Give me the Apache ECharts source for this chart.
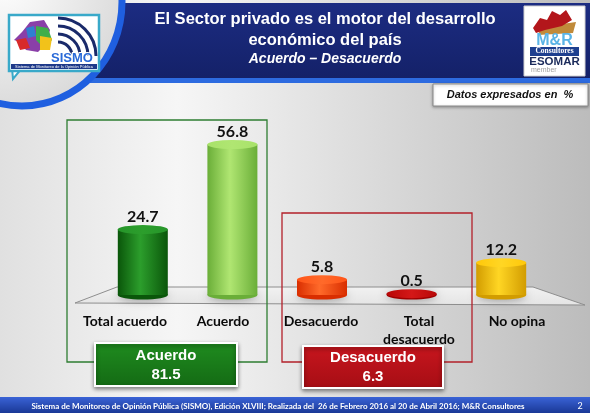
<!DOCTYPE html>
<html>
<head>
<meta charset="utf-8">
<script src="https://cdn.jsdelivr.net/npm/echarts@6/dist/echarts.min.js"></script>
<style>
  html, body { margin: 0; padding: 0; }
  #chart { width: 590px; height: 413px; }
</style>
</head>
<body>
<div id="chart"></div>
<script>
const categories = ['Total acuerdo', 'Acuerdo', 'Desacuerdo', 'Total\ndesacuerdo', 'No opina'];
const values = [24.7, 56.8, 5.8, 0.5, 12.2];
const groupNames = ['Acuerdo', 'Desacuerdo'];
const groupTotals = [81.5, 6.3];
const titleLines = ['El Sector privado es el motor del desarrollo', 'económico del país'];
const subtitle = 'Acuerdo – Desacuerdo';
const unitNote = 'Datos expresados en  %';
const footerText = 'Sistema de Monitoreo de Opinión Pública (SISMO), Edición XLVIII; Realizada del  26 de Febrero 2016 al 20 de Abril 2016; M&R Consultores';
const pageNumber = '2';

// edge, middle, top of each cylinder
const palette = [
  ['#0a560a', '#2c9e2c', '#26952a'],
  ['#6aae38', '#b0e672', '#a8e26a'],
  ['#d92e00', '#ff6a2a', '#ff5418'],
  ['#9e0000', '#d41818', '#b80808'],
  ['#d29c00', '#ffd624', '#ffc80a']
];

const FONT = 'Lato, "Open Sans", sans-serif';
const ARIAL = '"Liberation Sans", Arial, sans-serif';

function cylGrad(i) {
  const c = palette[i];
  return new echarts.graphic.LinearGradient(0, 0, 1, 0, [
    { offset: 0, color: c[0] },
    { offset: 0.45, color: c[1] },
    { offset: 1, color: c[0] }
  ]);
}

function topGrad(i) {
  const c = palette[i];
  return new echarts.graphic.LinearGradient(0, 0, 1, 0, [
    { offset: 0, color: c[2] },
    { offset: 0.5, color: c[1] },
    { offset: 1, color: c[2] }
  ]);
}

const chart = echarts.init(document.getElementById('chart'));

const graphic = [
  // header band
  { type: 'rect', shape: { x: 0, y: 3, width: 590, height: 76 }, z: 0,
    style: { fill: new echarts.graphic.LinearGradient(0, 0, 0, 1, [
      { offset: 0, color: '#1c2c82' }, { offset: 1, color: '#142168' }]) } },
  { type: 'rect', shape: { x: 0, y: 78, width: 590, height: 5 }, z: 0, style: { fill: '#2d6be0' } },
  { type: 'ellipse', shape: { cx: 22, cy: 2, rx: 100, ry: 104 }, z: 1,
    style: { fill: new echarts.graphic.RadialGradient(0.4, 0.4, 0.7, [
      { offset: 0, color: '#ffffff' }, { offset: 1, color: '#d6d6d6' }]),
      stroke: '#1f5fe0', lineWidth: 7 } },

  // SISMO logo
  { type: 'polygon', shape: { points: [[12, 68], [22, 68], [13, 79]] }, z: 2,
    style: { fill: '#fff', stroke: '#39a9c9', lineWidth: 2 } },
  { type: 'rect', shape: { x: 9, y: 15, width: 90, height: 56 }, z: 2,
    style: { fill: '#fff', stroke: '#39a9c9', lineWidth: 2.5 } },
  { type: 'polygon', shape: { points: [[30, 22], [44, 20], [50, 30], [46, 44], [38, 52], [26, 50], [20, 42], [14, 40], [22, 32]] }, z: 3,
    style: { fill: '#8a3fa8' } },
  { type: 'polygon', shape: { points: [[36, 26], [48, 28], [52, 40], [44, 48], [36, 40]] }, z: 3, style: { fill: '#3fae4a' } },
  { type: 'polygon', shape: { points: [[40, 36], [52, 38], [50, 50], [40, 50]] }, z: 3, style: { fill: '#f2c21a' } },
  { type: 'polygon', shape: { points: [[16, 40], [26, 38], [30, 48], [20, 50]] }, z: 3, style: { fill: '#d82a2a' } },
  { type: 'polygon', shape: { points: [[26, 28], [34, 26], [36, 36], [28, 38]] }, z: 3, style: { fill: '#2f7fd0' } },
  { type: 'arc', shape: { cx: 58, cy: 56, r: 14, startAngle: -Math.PI / 2, endAngle: 0 }, z: 3,
    style: { stroke: '#1a2a6a', lineWidth: 3, fill: null } },
  { type: 'arc', shape: { cx: 58, cy: 56, r: 22, startAngle: -Math.PI / 2, endAngle: 0 }, z: 3,
    style: { stroke: '#1a2a6a', lineWidth: 3, fill: null } },
  { type: 'arc', shape: { cx: 58, cy: 56, r: 30, startAngle: -Math.PI / 2, endAngle: 0 }, z: 3,
    style: { stroke: '#1a2a6a', lineWidth: 3, fill: null } },
  { type: 'arc', shape: { cx: 58, cy: 56, r: 38, startAngle: -Math.PI / 2, endAngle: 0 }, z: 3,
    style: { stroke: '#1a2a6a', lineWidth: 3, fill: null } },
  { type: 'text', x: 72, y: 58, z: 4,
    style: { text: 'SISMO', fill: '#2a6ad8', stroke: '#fff', lineWidth: 2, font: 'bold 13px ' + ARIAL,
      align: 'center', verticalAlign: 'middle' } },
  { type: 'rect', shape: { x: 11, y: 64, width: 86, height: 5 }, z: 3, style: { fill: '#1e3a8a' } },
  { type: 'text', x: 54, y: 66.5, z: 4,
    style: { text: 'Sistema de Monitoreo de la Opinión Pública', fill: '#fff', font: '4px ' + ARIAL,
      align: 'center', verticalAlign: 'middle' } },

  // M&R logo
  { type: 'rect', shape: { x: 524, y: 6, width: 61, height: 70 }, z: 2,
    style: { fill: '#fff', stroke: '#d0d0d0', lineWidth: 1 } },
  { type: 'polygon', shape: { points: [[541, 27], [576, 22], [573, 33], [538, 35]] }, z: 3, style: { fill: '#c08a3a' } },
  { type: 'polygon', shape: { points: [[533, 28], [540, 18], [547, 20], [552, 11], [560, 15], [566, 10], [572, 20], [562, 26], [545, 30], [536, 33]] }, z: 3,
    style: { fill: '#b3161b' } },
  { type: 'text', x: 554.5, y: 41, z: 3,
    style: { text: 'M&R', fill: '#5ab4e6', font: 'bold 16px ' + ARIAL, align: 'center', verticalAlign: 'middle' } },
  { type: 'rect', shape: { x: 530, y: 47, width: 49, height: 9 }, z: 3, style: { fill: '#1d3f8f' } },
  { type: 'text', x: 554.5, y: 51.5, z: 4,
    style: { text: 'Consultores', fill: '#fff', font: 'bold 7.5px "Liberation Serif", serif', align: 'center', verticalAlign: 'middle' } },
  { type: 'text', x: 554.5, y: 62, z: 3,
    style: { text: 'ESOMAR', fill: '#1a2a5a', font: 'bold 11.5px ' + ARIAL, align: 'center', verticalAlign: 'middle' } },
  { type: 'text', x: 531, y: 70.5, z: 3,
    style: { text: 'member', fill: '#a0a0a0', font: '7px ' + ARIAL, align: 'left', verticalAlign: 'middle' } },

  // titles
  { type: 'text', x: 325, y: 19, z: 3,
    style: { text: titleLines[0], fill: '#fff', font: 'bold 16.5px ' + ARIAL, align: 'center', verticalAlign: 'middle' } },
  { type: 'text', x: 325, y: 40, z: 3,
    style: { text: titleLines[1], fill: '#fff', font: 'bold 16.5px ' + ARIAL, align: 'center', verticalAlign: 'middle' } },
  { type: 'text', x: 325, y: 59, z: 3,
    style: { text: subtitle, fill: '#fff', font: 'italic bold 14px ' + ARIAL, align: 'center', verticalAlign: 'middle' } },

  // unit note
  { type: 'rect', shape: { x: 433, y: 84, width: 155, height: 22 }, z: 2,
    style: { fill: '#fff', stroke: '#8a8a8a', lineWidth: 1, shadowBlur: 3, shadowColor: 'rgba(0,0,0,0.3)', shadowOffsetY: 1 } },
  { type: 'text', x: 510, y: 95, z: 3,
    style: { text: unitNote, fill: '#111', font: 'italic bold 11px ' + ARIAL, align: 'center', verticalAlign: 'middle' } },

  // floor
  { type: 'polygon', shape: { points: [[117, 287], [533, 287], [585, 305], [75, 303]] }, z: 0,
    style: { fill: new echarts.graphic.LinearGradient(0, 0, 0, 1, [
      { offset: 0, color: '#f2f2f2' }, { offset: 1, color: '#e4e4e4' }]),
      stroke: '#8e8e8e', lineWidth: 1 } },

  // group outlines
  { type: 'rect', shape: { x: 67, y: 120, width: 200, height: 242 }, z: 1,
    style: { fill: null, stroke: '#2e7d32', lineWidth: 1.3 } },
  { type: 'rect', shape: { x: 282, y: 213, width: 190, height: 149 }, z: 1,
    style: { fill: null, stroke: '#b3202a', lineWidth: 1.3 } },

  // group totals
  { type: 'rect', shape: { x: 95, y: 343, width: 142, height: 43 }, z: 5,
    style: { fill: new echarts.graphic.LinearGradient(0, 0, 0, 1, [
      { offset: 0, color: '#1f8c1f' }, { offset: 1, color: '#146a14' }]),
      stroke: '#fff', lineWidth: 2, shadowBlur: 4, shadowColor: 'rgba(0,0,0,0.45)', shadowOffsetY: 2 } },
  { type: 'text', x: 166, y: 356, z: 6,
    style: { text: groupNames[0], fill: '#fff', font: 'bold 15px ' + ARIAL, align: 'center', verticalAlign: 'middle' } },
  { type: 'text', x: 166, y: 375, z: 6,
    style: { text: groupTotals[0].toFixed(1), fill: '#fff', font: 'bold 15px ' + ARIAL, align: 'center', verticalAlign: 'middle' } },
  { type: 'rect', shape: { x: 303, y: 346, width: 140, height: 42 }, z: 5,
    style: { fill: new echarts.graphic.LinearGradient(0, 0, 0, 1, [
      { offset: 0, color: '#c8161e' }, { offset: 1, color: '#a50d14' }]),
      stroke: '#fff', lineWidth: 2, shadowBlur: 4, shadowColor: 'rgba(0,0,0,0.45)', shadowOffsetY: 2 } },
  { type: 'text', x: 373, y: 358, z: 6,
    style: { text: groupNames[1], fill: '#fff', font: 'bold 15px ' + ARIAL, align: 'center', verticalAlign: 'middle' } },
  { type: 'text', x: 373, y: 377, z: 6,
    style: { text: groupTotals[1].toFixed(1), fill: '#fff', font: 'bold 15px ' + ARIAL, align: 'center', verticalAlign: 'middle' } },

  // footer
  { type: 'rect', shape: { x: 0, y: 397, width: 590, height: 16 }, z: 2,
    style: { fill: new echarts.graphic.LinearGradient(0, 0, 0, 1, [
      { offset: 0, color: '#3a63d6' }, { offset: 1, color: '#1a3896' }]) } },
  { type: 'text', x: 278, y: 406, z: 3,
    style: { text: footerText, fill: '#fff', font: 'bold 8px ' + FONT, align: 'center', verticalAlign: 'middle' } },
  { type: 'text', x: 580, y: 406, z: 3,
    style: { text: pageNumber, fill: '#fff', font: '9px ' + FONT, align: 'center', verticalAlign: 'middle' } }
];

const option = {
  backgroundColor: new echarts.graphic.LinearGradient(0, 0, 1, 0, [
    { offset: 0, color: '#e0e0e0' },
    { offset: 0.3, color: '#f6f6f6' },
    { offset: 1, color: '#bcbcbc' }
  ]),
  animation: false,
  graphic: graphic,
  grid: [
    { left: 98, width: 448, top: 136, height: 159 },
    // labels sit on the front edge of the floor, spread wider than the bars
    { left: 76, width: 490, top: 136, height: 159 }
  ],
  xAxis: [
    {
      type: 'category',
      data: categories,
      axisLine: { show: false },
      axisTick: { show: false },
      axisLabel: { show: false }
    },
    {
      type: 'category',
      gridIndex: 1,
      data: categories,
      axisLine: { show: false },
      axisTick: { show: false },
      axisLabel: {
        interval: 0,
        margin: 17,
        color: '#0a0a0a',
        fontFamily: FONT,
        fontWeight: 'bold',
        fontSize: 14,
        lineHeight: 18
      }
    }
  ],
  yAxis: [
    { type: 'value', min: 0, max: 60, show: false, splitLine: { show: false } },
    { type: 'value', gridIndex: 1, min: 0, max: 60, show: false, splitLine: { show: false } }
  ],
  series: [
    {
      type: 'pictorialBar',
      symbol: 'circle',
      symbolSize: [50, 9],
      symbolOffset: [0, '50%'],
      z: 1,
      data: values.map((v, i) => ({
        value: v,
        itemStyle: { color: palette[i][0], shadowBlur: 8, shadowColor: 'rgba(0,0,0,0.35)', shadowOffsetY: 1 }
      }))
    },
    {
      type: 'bar',
      barWidth: 50,
      z: 2,
      data: values.map((v, i) => ({ value: v, itemStyle: { color: cylGrad(i) } })),
      label: {
        show: true,
        position: 'top',
        distance: 5,
        color: '#111',
        fontFamily: FONT,
        fontWeight: 'bold',
        fontSize: 16,
        formatter: p => p.value.toFixed(1)
      }
    },
    {
      type: 'pictorialBar',
      symbol: 'circle',
      symbolSize: [50, 9],
      symbolPosition: 'end',
      symbolOffset: [0, '-50%'],
      z: 3,
      data: values.map((v, i) => ({ value: v, itemStyle: { color: topGrad(i) } }))
    }
  ]
};

chart.setOption(option);
</script>
</body>
</html>
